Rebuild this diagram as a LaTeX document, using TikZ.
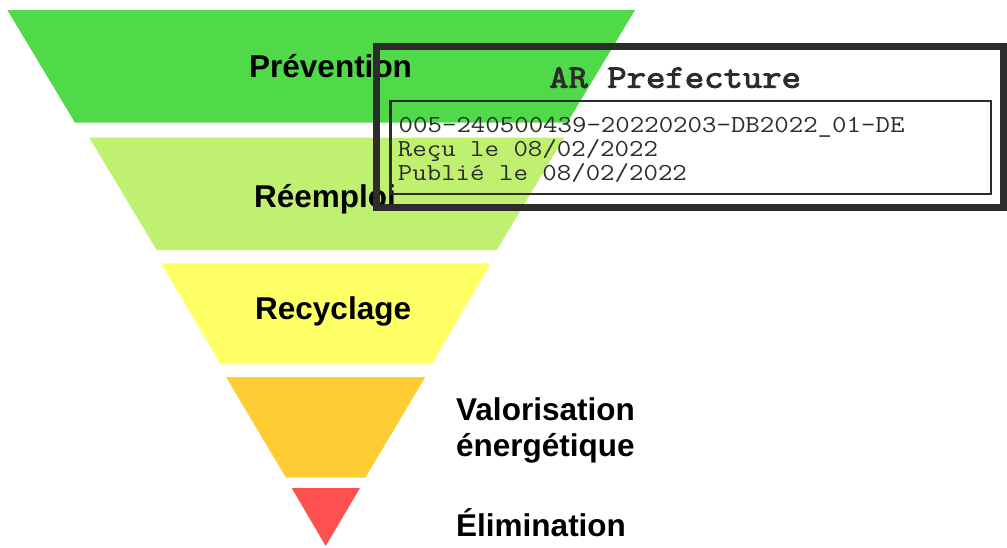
\documentclass[tikz,border=0pt]{standalone}
\usepackage{fontspec}
\setmainfont{Liberation Sans}
\newfontfamily\stamptt{Latin Modern Mono}[FakeStretch=1.15,AutoFakeBold=3]
\definecolor{cgreen}{HTML}{50DA4A}
\definecolor{clight}{HTML}{C0F070}
\definecolor{cyellow}{HTML}{FFFF66}
\definecolor{corange}{HTML}{FFCC33}
\definecolor{cred}{HTML}{FF5050}
\definecolor{cstamp}{HTML}{2C2C2C}
\begin{document}
\begin{tikzpicture}[x=1pt,y=-1pt,
  lvl/.style={inner sep=0pt,anchor=base west,font=\bfseries\fontsize{31.5}{36}\selectfont},
  stamptitle/.style={inner sep=0pt,anchor=base west,text=cstamp,font=\stamptt\bfseries\fontsize{32.7}{36}\selectfont},
  stampline/.style={inner sep=0pt,anchor=base west,text=cstamp,font=\stamptt\fontsize{24.4}{28}\selectfont}]
\useasboundingbox (0,0) rectangle (1007,547);
% pyramid levels
\fill[cgreen] (7.3,10) -- (635,10) -- (567.3,122.7) -- (75,122.7) -- cycle;
\fill[clight] (89.3,137.7) -- (564.1,137.7) -- (496.7,250) -- (156.7,250) -- cycle;
\fill[cyellow] (161,263.3) -- (490.7,263.3) -- (431.7,364.3) -- (220.7,364.3) -- cycle;
\fill[corange] (226,377) -- (425.3,377) -- (365.3,477.7) -- (286,477.7) -- cycle;
\fill[cred] (291.7,488) -- (360,488) -- (325.7,546) -- cycle;
% labels
\node[lvl] (prev) at (249,77) {Prévention};
\node[lvl] (reem) at (254,207) {Réemploi};
\node[lvl] (recy) at (255,319.3) {Recyclage};
\node[lvl] (val1) at (456,420) {Valorisation};
\node[lvl] (val2) at (456,456) {énergétique};
\node[lvl] (elim) at (456,536.7) {Élimination};
% stamp
\draw[cstamp,line width=7pt] (376.7,46.3) rectangle (1003,207);
\draw[cstamp,line width=2.7pt] (390.3,101) rectangle (991,194);
\node[stamptitle] (ar) at (549,87.7) {AR Prefecture};
\node[stampline] (l1) at (398.5,132.7) {005-240500439-20220203-DB2022\_01-DE};
\node[stampline] (l2) at (397.7,156.7) {Reçu le 08/02/2022};
\node[stampline] (l3) at (397.7,180) {Publié le 08/02/2022};
\end{tikzpicture}
\end{document}
